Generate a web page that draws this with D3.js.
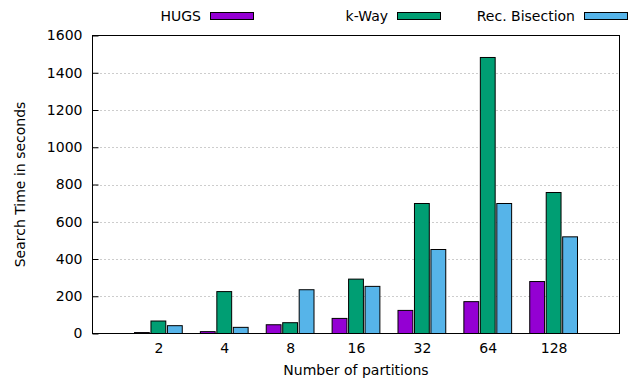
<!DOCTYPE html>
<html>
<head>
<meta charset="utf-8">
<script src="https://cdn.jsdelivr.net/npm/d3@7"></script>
<style>
  html, body { margin: 0; padding: 0; background: #fff; }
  svg { display: block; }
  text { font-family: "DejaVu Sans", sans-serif; font-size: 14px; fill: #000; }
</style>
</head>
<body>
<svg id="chart" width="635" height="380"></svg>
<script>
// Number of partitions on the x axis
const categories = ["2", "4", "8", "16", "32", "64", "128"];
// Search time in seconds for each partitioner
const hugs = [5, 10, 47, 81, 124, 171, 279];
const kWay = [67, 225, 58, 292, 698, 1482, 757];
const recBisection = [42, 33, 235, 253, 451, 698, 519];
const seriesNames = ["HUGS", "k-Way", "Rec. Bisection"];
const seriesColors = ["#9400d3", "#009e73", "#56b4e9"];
const yTicks = [0, 200, 400, 600, 800, 1000, 1200, 1400, 1600];

const series = [hugs, kWay, recBisection];

const svg = d3.select("#chart");
const plotLeft = 92.5, plotRight = 619.5, plotTop = 35.5, plotBottom = 333.5;
const fontPx = "14px";

// categories sit at 0..n-1 with one empty slot at each side
const x = d3.scaleLinear().domain([-1, categories.length]).range([plotLeft, plotRight]);
const y = d3.scaleLinear().domain([0, 1600]).range([plotBottom, plotTop]);

const slot = (x(1) - x(0)) / (series.length + 1);
const barW = slot * 0.9;

// dotted horizontal grid
svg.append("g")
  .selectAll("line")
  .data(yTicks.filter(t => t > 0 && t < 1600))
  .join("line")
  .attr("x1", plotLeft).attr("x2", plotRight)
  .attr("y1", d => Math.round(y(d)) + 0.5).attr("y2", d => Math.round(y(d)) + 0.5)
  .attr("stroke", "#9a9a9a")
  .attr("stroke-width", 1)
  .attr("stroke-dasharray", "1,3");

// clustered bars
series.forEach((vals, s) => {
  svg.append("g")
    .selectAll("rect")
    .data(vals)
    .join("rect")
    .attr("x", (d, i) => x(i) + (s - 1) * slot - barW / 2)
    .attr("y", d => y(d))
    .attr("width", barW)
    .attr("height", d => y(0) - y(d))
    .attr("fill", seriesColors[s])
    .attr("stroke", "#000")
    .attr("stroke-width", 1);
});

// y axis with inward ticks
const yAxis = svg.append("g")
  .attr("transform", `translate(${plotLeft},0)`)
  .call(d3.axisLeft(y).tickValues(yTicks).tickFormat(d3.format("d"))
    .tickSize(-6).tickPadding(10).tickSizeOuter(0));
yAxis.select(".domain").remove();
yAxis.selectAll("text").style("font-size", fontPx).attr("font-family", null);

// x axis labels, no tick marks
const xAxis = svg.append("g")
  .attr("transform", `translate(0,${plotBottom})`)
  .call(d3.axisBottom(x).tickValues(d3.range(categories.length))
    .tickFormat(i => categories[i]).tickSize(0).tickPadding(10));
xAxis.select(".domain").remove();
xAxis.selectAll("text").style("font-size", fontPx).attr("font-family", null);

// plot border
svg.append("rect")
  .attr("x", plotLeft).attr("y", plotTop)
  .attr("width", plotRight - plotLeft).attr("height", plotBottom - plotTop)
  .attr("fill", "none").attr("stroke", "#000").attr("stroke-width", 1);

// axis titles
svg.append("text")
  .attr("x", (plotLeft + plotRight) / 2).attr("y", 375)
  .attr("text-anchor", "middle")
  .text("Number of partitions");

svg.append("text")
  .attr("transform", `translate(25,${(plotTop + plotBottom) / 2}) rotate(-90)`)
  .attr("text-anchor", "middle")
  .text("Search Time in seconds");

// legend across the top
const legendEnds = [201, 388, 575];
const legend = svg.append("g")
  .selectAll("g")
  .data(seriesNames)
  .join("g")
  .attr("transform", (d, i) => `translate(${legendEnds[i]},0)`);
legend.append("text")
  .attr("x", 0).attr("y", 21)
  .attr("text-anchor", "end")
  .text(d => d);
legend.append("rect")
  .attr("x", 9.5).attr("y", 12.5)
  .attr("width", 43).attr("height", 7)
  .attr("fill", (d, i) => seriesColors[i])
  .attr("stroke", "#000").attr("stroke-width", 1);
</script>
</body>
</html>
